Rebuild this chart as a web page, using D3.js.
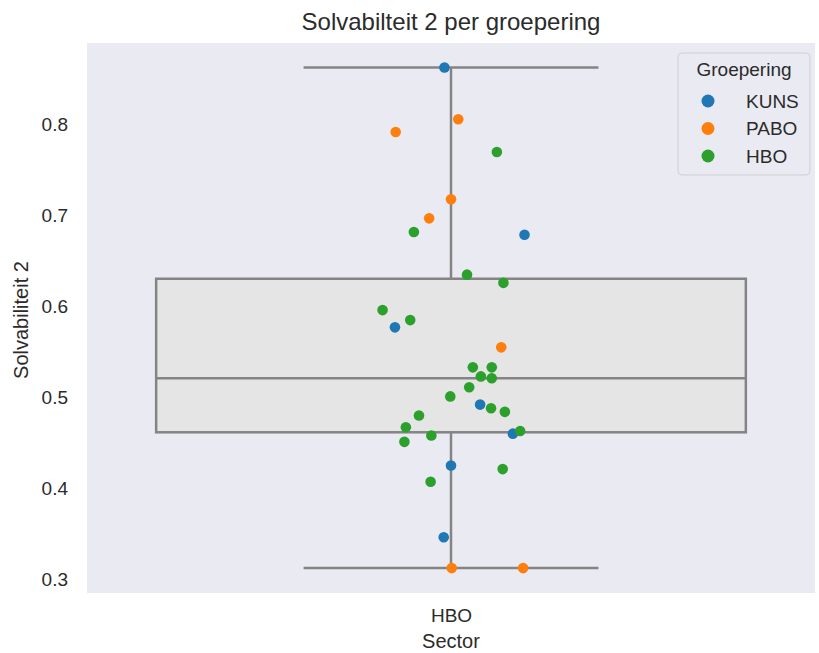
<!DOCTYPE html>
<html>
<head>
<meta charset="utf-8">
<script src="https://cdn.jsdelivr.net/npm/d3@7"></script>
<style>
  body { margin: 0; background: #fff; }
  text { font-family: "Liberation Sans", Arial, sans-serif; fill: #2b2b2b; }
</style>
</head>
<body>
<div id="chart"></div>
<script>
const width = 819;
const height = 653;

const categories = ["HBO"];
const groups = ["KUNS", "PABO", "HBO"];
const groupColors = ["#1f77b4", "#ff7f0e", "#2ca02c"];

const kunsValues = [0.863, 0.679, 0.577, 0.492, 0.460, 0.425, 0.346];
const kunsJitter = [-0.009, 0.101, -0.077, 0.040, 0.085, 0.000, -0.010];

const paboValues = [0.806, 0.792, 0.718, 0.697, 0.555, 0.312, 0.312];
const paboJitter = [0.010, -0.076, 0.000, -0.030, 0.069, 0.001, 0.099];

const hboValues = [0.770, 0.682, 0.635, 0.626, 0.596, 0.585, 0.533, 0.533, 0.523, 0.521, 0.511,
                   0.501, 0.488, 0.484, 0.480, 0.467, 0.463, 0.458, 0.451, 0.421, 0.407];
const hboJitter = [0.063, -0.051, 0.022, 0.072, -0.094, -0.056, 0.030, 0.056, 0.041, 0.056, 0.025,
                   -0.001, 0.055, 0.074, -0.044, -0.062, 0.095, -0.027, -0.064, 0.071, -0.028];

const yTicks = [0.3, 0.4, 0.5, 0.6, 0.7, 0.8];

const margin = {top: 43, right: 4, bottom: 60, left: 87};

const svg = d3.select("#chart").append("svg")
    .attr("width", width)
    .attr("height", height);

const x = d3.scaleLinear()
    .domain([-0.5, 0.5])
    .range([margin.left, width - margin.right]);

const y = d3.scaleLinear()
    .domain([0.2846, 0.890])
    .range([height - margin.bottom, margin.top]);

// background
svg.append("rect")
    .attr("x", margin.left)
    .attr("y", margin.top)
    .attr("width", width - margin.right - margin.left)
    .attr("height", height - margin.bottom - margin.top)
    .attr("fill", "#eaeaf2");

// box stats from all points
const allValues = kunsValues.concat(paboValues, hboValues).sort(d3.ascending);
const q1 = d3.quantile(allValues, 0.25);
const med = d3.quantile(allValues, 0.5);
const q3 = d3.quantile(allValues, 0.75);
const iqr = q3 - q1;
const lo = d3.min(allValues.filter(v => v >= q1 - 1.5 * iqr));
const hi = d3.max(allValues.filter(v => v <= q3 + 1.5 * iqr));

const boxW = 0.81;
const lineColor = "#848484";
const box = svg.append("g").attr("stroke", lineColor).attr("stroke-width", 2.5);

box.append("line")
    .attr("x1", x(0)).attr("x2", x(0))
    .attr("y1", y(hi)).attr("y2", y(q3));
box.append("line")
    .attr("x1", x(0)).attr("x2", x(0))
    .attr("y1", y(q1)).attr("y2", y(lo));
box.append("line")
    .attr("x1", x(-boxW / 4)).attr("x2", x(boxW / 4))
    .attr("y1", y(hi)).attr("y2", y(hi));
box.append("line")
    .attr("x1", x(-boxW / 4)).attr("x2", x(boxW / 4))
    .attr("y1", y(lo)).attr("y2", y(lo));
box.append("rect")
    .attr("x", x(-boxW / 2))
    .attr("y", y(q3))
    .attr("width", x(boxW / 2) - x(-boxW / 2))
    .attr("height", y(q1) - y(q3))
    .attr("fill", "#e5e5e5");
box.append("line")
    .attr("x1", x(-boxW / 2)).attr("x2", x(boxW / 2))
    .attr("y1", y(med)).attr("y2", y(med));

// strip points
const series = [
  {values: kunsValues, jitter: kunsJitter, color: groupColors[0]},
  {values: paboValues, jitter: paboJitter, color: groupColors[1]},
  {values: hboValues, jitter: hboJitter, color: groupColors[2]}
];

series.forEach(s => {
  svg.append("g")
    .selectAll("circle")
    .data(s.values)
    .join("circle")
    .attr("cx", (d, i) => x(s.jitter[i]))
    .attr("cy", d => y(d))
    .attr("r", 5.3)
    .attr("fill", s.color);
});

// y axis
const yAxis = svg.append("g")
    .attr("transform", `translate(${margin.left},0)`)
    .call(d3.axisLeft(y).tickValues(yTicks).tickFormat(d3.format(".1f")).tickSize(0).tickPadding(19));
yAxis.select(".domain").remove();
yAxis.selectAll("text").style("font-size", "19px").attr("fill", "#2b2b2b");

// x axis
const xAxis = svg.append("g")
    .attr("transform", `translate(0,${height - margin.bottom})`)
    .call(d3.axisBottom(x).tickValues([0]).tickFormat((d, i) => categories[i]).tickSize(0).tickPadding(16));
xAxis.select(".domain").remove();
xAxis.selectAll("text").style("font-size", "19px").attr("fill", "#2b2b2b");

// labels
svg.append("text")
    .attr("x", x(0))
    .attr("y", 648)
    .attr("text-anchor", "middle")
    .style("font-size", "20px")
    .text("Sector");

svg.append("text")
    .attr("transform", `translate(28,320) rotate(-90)`)
    .attr("text-anchor", "middle")
    .style("font-size", "20px")
    .text("Solvabiliteit 2");

svg.append("text")
    .attr("x", x(0))
    .attr("y", 30)
    .attr("text-anchor", "middle")
    .style("font-size", "24px")
    .text("Solvabilteit 2 per groepering");

// legend
const legend = svg.append("g").attr("transform", "translate(678,53)");
legend.append("rect")
    .attr("width", 132)
    .attr("height", 122)
    .attr("rx", 4)
    .attr("fill", "#eaeaf2")
    .attr("stroke", "#cfcfd6")
    .attr("stroke-width", 1);
legend.append("text")
    .attr("x", 66)
    .attr("y", 23)
    .attr("text-anchor", "middle")
    .style("font-size", "19px")
    .text("Groepering");
const item = legend.selectAll("g.item")
    .data(groups)
    .join("g")
    .attr("class", "item")
    .attr("transform", (d, i) => `translate(0,${48 + i * 27.5})`);
item.append("circle")
    .attr("cx", 30)
    .attr("r", 6.5)
    .attr("fill", (d, i) => groupColors[i]);
item.append("text")
    .attr("x", 68)
    .attr("dy", "0.35em")
    .style("font-size", "19px")
    .text(d => d);
</script>
</body>
</html>
